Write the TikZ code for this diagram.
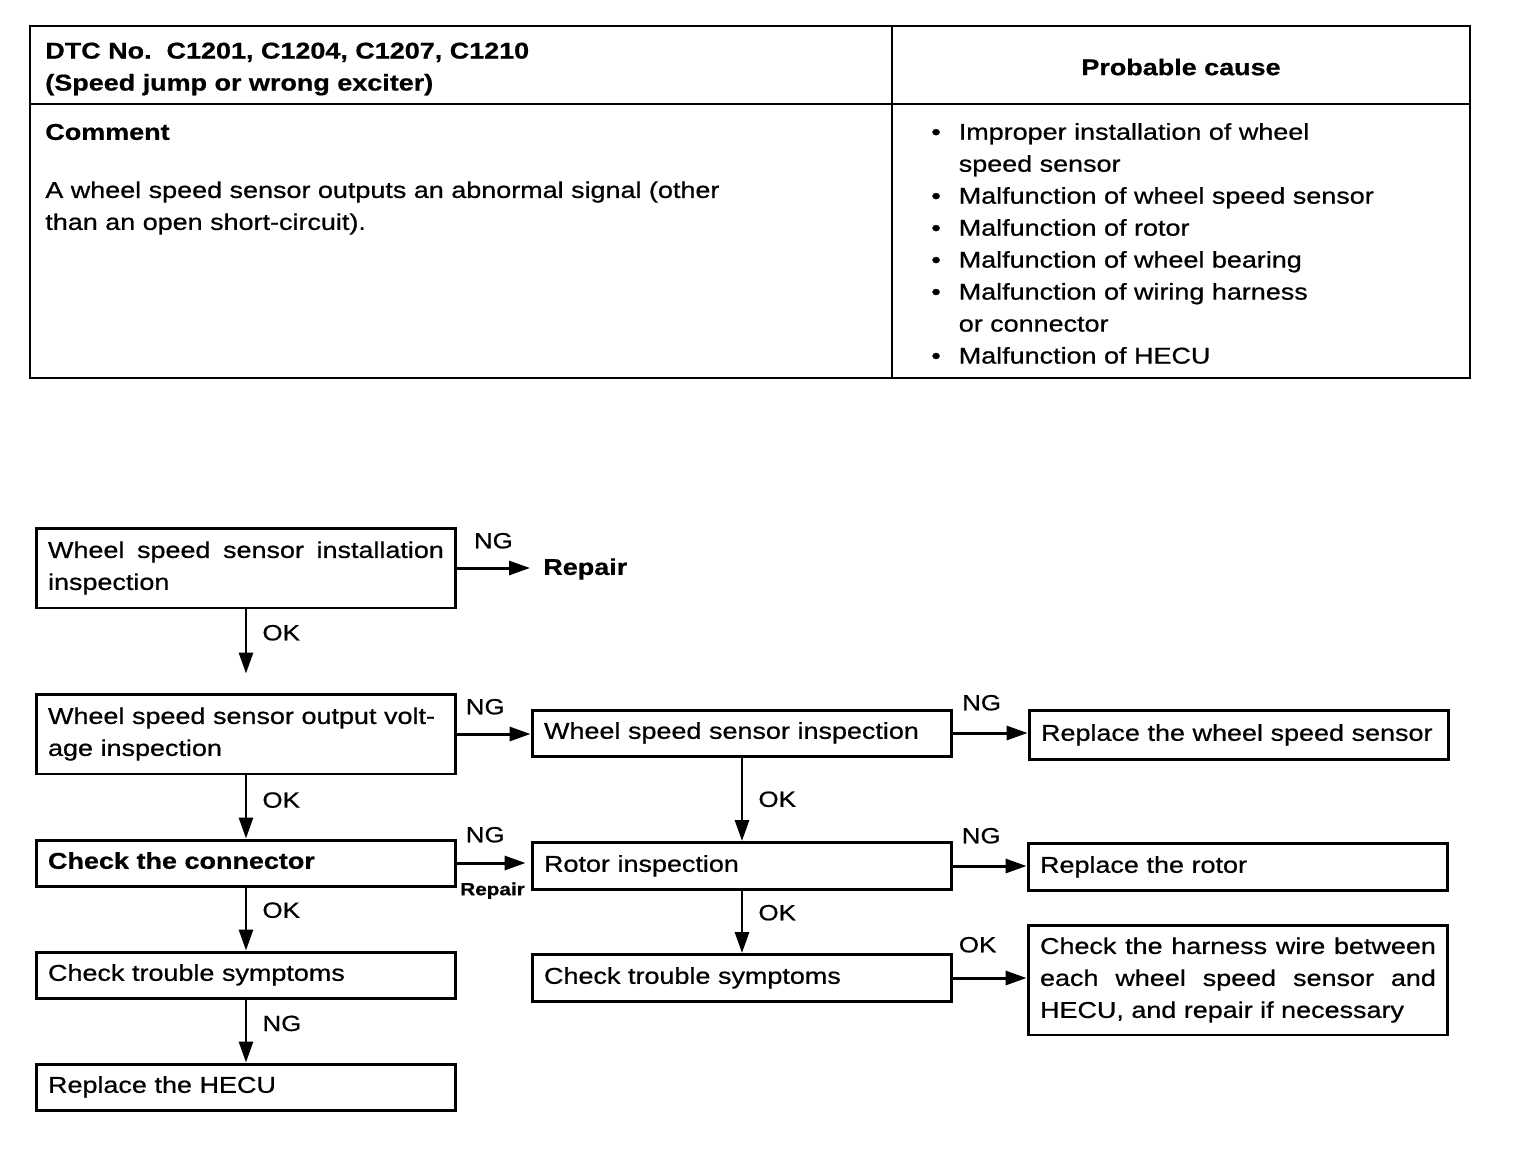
\documentclass[tikz,border=0pt]{standalone}
\usepackage{fontspec}
\setmainfont{Liberation Sans}[FakeStretch=1.18,FakeBold=0.7]
\usepackage{tikz}
\usetikzlibrary{arrows.meta,positioning}
\definecolor{ink}{HTML}{000000}
\newcommand{\boxfont}{\fontsize{13}{18.2}\selectfont}
\newcommand{\tagfont}{\fontsize{12.5}{14}\selectfont}
\newcommand{\smalltagfont}{\fontsize{10}{12}\selectfont\bfseries}
\tikzset{
  flowbox/.style={
    draw=ink, line width=1.7pt, minimum width=8.4cm, text width=7.92cm,
    inner xsep=0.24cm, inner ysep=0pt, align=left, font=\boxfont
  },
  flowarrow/.style={
    draw=ink, line width=1.7pt, -{Triangle[length=0.42cm,width=0.28cm]}
  },
  flowtag/.style={inner sep=0pt, font=\tagfont, text=ink},
  tablerule/.style={draw=ink, line width=1.2pt},
  tabletext/.style={inner sep=0pt, align=left, font=\boxfont, anchor=west}
}

\begin{document}
\begin{tikzpicture}[x=0.02cm,y=-0.02cm]
  \path[fill=white,use as bounding box] (0,0) rectangle (1536,1174);

  % table at the top
  \draw[tablerule] (30,26) rectangle (1470,378);
  \draw[tablerule] (892,26) -- (892,378);
  \draw[tablerule] (30,104) -- (1470,104);
  \node[tabletext, font=\boxfont\bfseries] (dtc) at (45,69)
    {DTC No.\ \ C1201, C1204, C1207, C1210\\(Speed jump or wrong exciter)};
  \node[inner sep=0pt, font=\boxfont\bfseries] (causehead) at (1181,67) {Probable cause};
  \node[tabletext, font=\boxfont\bfseries] (comment) at (45,132) {Comment};
  \node[tabletext] (commenttext) at (45,208)
    {A wheel speed sensor outputs an abnormal signal (other\\than an open short-circuit).};
  \node[tabletext, anchor=north west] (causes) at (931,117) {%
    \begin{tabular}{@{}l@{\hspace{0.36cm}}l@{}}
      \textbullet & Improper installation of wheel\\
                  & speed sensor\\
      \textbullet & Malfunction of wheel speed sensor\\
      \textbullet & Malfunction of rotor\\
      \textbullet & Malfunction of wheel bearing\\
      \textbullet & Malfunction of wiring harness\\
                  & or connector\\
      \textbullet & Malfunction of HECU
    \end{tabular}};

  % flow chart
  \node[flowbox, minimum height=1.6cm, align=justify] (instinsp) at (246,568)
    {Wheel speed sensor installation inspection};
  \node[inner sep=0pt, font=\boxfont\bfseries, anchor=west] (repair) at (543,569) {Repair};
  \node[flowbox, minimum height=1.6cm] (outinsp) at (246,734)
    {Wheel speed sensor output volt-\\age inspection};
  \node[flowbox, minimum height=0.92cm, text depth=0.1cm] (sensinsp) at (742,733) {Wheel speed sensor inspection};
  \node[flowbox, minimum height=0.98cm, text depth=0.1cm] (replsensor) at (1239,735) {Replace the wheel speed sensor};
  \node[flowbox, minimum height=0.92cm, text depth=0.1cm, font=\boxfont\bfseries] (connector) at (246,863) {Check the connector};
  \node[flowbox, minimum height=0.94cm, text depth=0.1cm] (rotorinsp) at (742,866) {Rotor inspection};
  \node[flowbox, minimum height=0.94cm, text depth=0.1cm] (replrotor) at (1238,867) {Replace the rotor};
  \node[flowbox, minimum height=0.92cm, text depth=0.1cm] (symptomsL) at (246,975) {Check trouble symptoms};
  \node[flowbox, minimum height=0.94cm, text depth=0.1cm] (symptomsR) at (742,978) {Check trouble symptoms};
  \node[flowbox, minimum height=2.2cm, align=justify] (harness) at (1238,980)
    {Check the harness wire between each wheel speed sensor and HECU, and repair if necessary};
  \node[flowbox, minimum height=0.92cm, text depth=0.1cm] (replhecu) at (246,1087) {Replace the HECU};

  \draw[flowarrow, shorten >=0.26cm] (instinsp.east) -- node[flowtag, above=0.36cm, pos=0.42] (ngA) {NG} (instinsp.east -| repair.west);
  \draw[flowarrow, shorten >=0.38cm] (instinsp.south) -- node[flowtag, right=0.3cm, pos=0.28] (okA) {OK} (outinsp.north);
  \draw[flowarrow] (outinsp.east) -- node[flowtag, above=0.36cm, pos=0.38] (ngB) {NG} (outinsp.east -| sensinsp.west);
  \draw[flowarrow] (sensinsp.east) -- node[flowtag, above=0.42cm, pos=0.38] (ngC) {NG} (sensinsp.east -| replsensor.west);
  \draw[flowarrow] (outinsp.south) -- node[flowtag, right=0.3cm, pos=0.39] (okB) {OK} (connector.north);
  \draw[flowarrow] (sensinsp.south) -- node[flowtag, right=0.3cm, pos=0.5] (okC) {OK} (rotorinsp.north);
  \draw[flowarrow, shorten >=0.1cm] (connector.east) -- node[flowtag, above=0.38cm, pos=0.38] (ngD) {NG}
    node[flowtag, font=\smalltagfont, below=0.36cm, pos=0.48] (repairD) {Repair} (connector.east -| rotorinsp.west);
  \draw[flowarrow] (rotorinsp.east) -- node[flowtag, above=0.42cm, pos=0.38] (ngE) {NG} (rotorinsp.east -| replrotor.west);
  \draw[flowarrow] (connector.south) -- node[flowtag, right=0.3cm, pos=0.36] (okD) {OK} (symptomsL.north);
  \draw[flowarrow] (rotorinsp.south) -- node[flowtag, right=0.3cm, pos=0.35] (okE) {OK} (symptomsR.north);
  \draw[flowarrow] (symptomsR.east) -- node[flowtag, above=0.48cm, pos=0.33] (okF) {OK} (symptomsR.east -| harness.west);
  \draw[flowarrow] (symptomsL.south) -- node[flowtag, right=0.3cm, pos=0.38] (ngF) {NG} (replhecu.north);
\end{tikzpicture}
\end{document}
